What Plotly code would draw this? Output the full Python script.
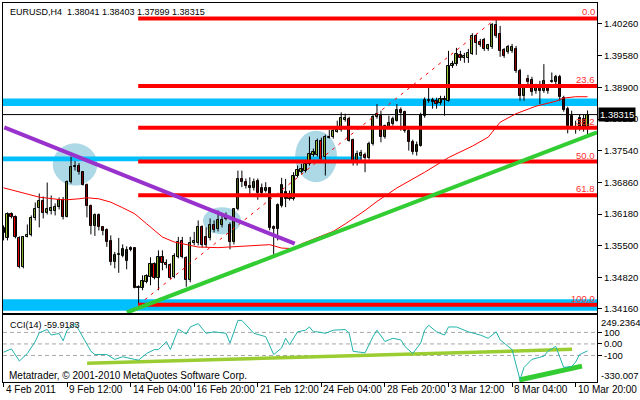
import plotly.graph_objects as go

# ---------------- data ----------------
symbol_header = "EURUSD,H4  1.38041 1.38403 1.37899 1.38315"

opens = [
    1.35873, 1.35659, 1.36172, 1.36108, 1.35669, 1.35038, 1.35691, 1.35723, 1.36087, 1.36301,
    1.36451, 1.36204, 1.36247, 1.36247, 1.36322, 1.36472, 1.36119, 1.36879, 1.37189, 1.37221,
    1.37093, 1.36804, 1.36354, 1.35926, 1.36162, 1.35894, 1.35830, 1.35595, 1.35145, 1.35295,
    1.35284, 1.35177, 1.35445, 1.35445, 1.34589, 1.34600, 1.34728, 1.34835, 1.35102, 1.34803,
    1.35263, 1.35124, 1.35092, 1.34835, 1.35263, 1.35595, 1.35231, 1.34760, 1.35552, 1.35552,
    1.35894, 1.35691, 1.35659, 1.35937, 1.35852, 1.35937, 1.36130, 1.35937, 1.35573, 1.36279,
    1.36936, 1.36879, 1.36793, 1.36735, 1.36885, 1.36735, 1.36686, 1.36735, 1.35900, 1.35866,
    1.36350, 1.36508, 1.36615, 1.36508, 1.37007, 1.37093, 1.37114, 1.37257, 1.37456, 1.37456,
    1.37756, 1.37399, 1.37814, 1.37827, 1.37949, 1.37985, 1.38199, 1.38221, 1.37771, 1.37343,
    1.37435, 1.37450, 1.37386, 1.37685, 1.38255, 1.38291, 1.37842, 1.38056, 1.38114, 1.38184,
    1.38413, 1.38362, 1.37970, 1.37735, 1.37506, 1.37649, 1.38291, 1.38597, 1.38627, 1.38612,
    1.38554, 1.38648, 1.38612, 1.39361, 1.39397, 1.39596, 1.39526, 1.39539, 1.39624, 1.40003,
    1.39875, 1.39911, 1.39718, 1.39768, 1.40238, 1.40039, 1.39697, 1.39667, 1.39682, 1.39718,
    1.39254, 1.38719, 1.39083, 1.39055, 1.38826, 1.38884, 1.38811, 1.38884, 1.39040, 1.39004,
    1.39126, 1.38670, 1.38434, 1.38291, 1.38041, 1.38248, 1.38227, 1.38041,
]
highs = [
    1.35937, 1.36215, 1.36215, 1.36151, 1.35702, 1.35702, 1.35958, 1.36151, 1.36429, 1.36622,
    1.36558, 1.36857, 1.36579, 1.36408, 1.36536, 1.36547, 1.36900, 1.37414, 1.37317, 1.37275,
    1.37103, 1.36836, 1.36386, 1.36194, 1.36194, 1.35916, 1.35873, 1.35723, 1.35370, 1.35669,
    1.35530, 1.35488, 1.35488, 1.35466, 1.34653, 1.34867, 1.34888, 1.35252, 1.35145, 1.35402,
    1.35402, 1.35209, 1.35124, 1.35338, 1.35691, 1.35691, 1.35274, 1.35691, 1.35798, 1.36044,
    1.35937, 1.35894, 1.36087, 1.36044, 1.36258, 1.36172, 1.36215, 1.36001, 1.36301, 1.37114,
    1.37114, 1.36943, 1.36971, 1.36943, 1.36943, 1.36836, 1.36864, 1.36757, 1.35937, 1.36408,
    1.36958, 1.36936, 1.36686, 1.37078, 1.37221, 1.37257, 1.37328, 1.37842, 1.37585, 1.37799,
    1.37820, 1.37884, 1.37985, 1.38013, 1.38184, 1.38362, 1.38334, 1.38270, 1.37799, 1.37542,
    1.37557, 1.37499, 1.37735, 1.38312, 1.38541, 1.38398, 1.38099, 1.38291, 1.38270, 1.38541,
    1.38469, 1.38398, 1.38013, 1.37777, 1.37735, 1.38355, 1.38683, 1.38884, 1.38676, 1.38676,
    1.38719, 1.38719, 1.39682, 1.39468, 1.39746, 1.39682, 1.39639, 1.39725, 1.40061, 1.40046,
    1.39939, 1.39960, 1.39832, 1.40281, 1.40377, 1.40217, 1.39746, 1.39810, 1.39832, 1.39789,
    1.39297, 1.38954, 1.39168, 1.39126, 1.38976, 1.39040, 1.39397, 1.38954, 1.39218, 1.39168,
    1.39168, 1.38719, 1.38484, 1.38398, 1.38184, 1.38312, 1.38312, 1.38403,
]
lows = [
    1.35616, 1.35616, 1.36087, 1.35659, 1.35017, 1.35017, 1.35680, 1.35702, 1.36044, 1.35894,
    1.36087, 1.36172, 1.36172, 1.36151, 1.36279, 1.36065, 1.36108, 1.36836, 1.37114, 1.37028,
    1.36793, 1.36108, 1.35744, 1.35712, 1.35830, 1.35723, 1.35477, 1.35081, 1.35017, 1.34920,
    1.35252, 1.34995, 1.35381, 1.34589, 1.34236, 1.34546, 1.34696, 1.34653, 1.34781, 1.34546,
    1.34974, 1.35017, 1.34781, 1.34803, 1.35231, 1.35231, 1.34621, 1.34717, 1.35509, 1.35509,
    1.35466, 1.35466, 1.35616, 1.35787, 1.35809, 1.35894, 1.36044, 1.35423, 1.35530, 1.36258,
    1.36757, 1.36729, 1.36615, 1.36686, 1.36487, 1.36601, 1.36643, 1.35830, 1.35274, 1.35616,
    1.36322, 1.36329, 1.36472, 1.36472, 1.36964, 1.37050, 1.37071, 1.37221, 1.37414, 1.37414,
    1.37328, 1.37007, 1.37799, 1.37799, 1.37927, 1.37949, 1.38163, 1.37735, 1.37221, 1.37221,
    1.37328, 1.37078, 1.37349, 1.37649, 1.38227, 1.37720, 1.37799, 1.38013, 1.38077, 1.38163,
    1.37970, 1.37927, 1.37542, 1.37456, 1.37435, 1.37628, 1.38248, 1.38569, 1.38441, 1.38441,
    1.38526, 1.38291, 1.38591, 1.39318, 1.39361, 1.39468, 1.39425, 1.39425, 1.39596, 1.39596,
    1.39768, 1.39682, 1.39682, 1.39725, 1.39960, 1.39554, 1.39532, 1.39618, 1.39639, 1.39211,
    1.38612, 1.38612, 1.38954, 1.38719, 1.38762, 1.38541, 1.38783, 1.38762, 1.38997, 1.38954,
    1.38612, 1.38377, 1.37912, 1.38013, 1.37906, 1.37970, 1.37949, 1.37899,
]
closes = [
    1.35766, 1.36172, 1.36119, 1.35691, 1.35038, 1.35680, 1.35734, 1.36087, 1.36290, 1.36451,
    1.36204, 1.36290, 1.36312, 1.36322, 1.36472, 1.36119, 1.36879, 1.37200, 1.37221, 1.37082,
    1.36814, 1.36354, 1.35926, 1.36162, 1.35894, 1.35819, 1.35584, 1.35145, 1.35306, 1.35327,
    1.35434, 1.35413, 1.35402, 1.34600, 1.34610, 1.34739, 1.34846, 1.35102, 1.34814, 1.35263,
    1.35124, 1.35081, 1.34814, 1.35274, 1.35584, 1.35263, 1.34760, 1.35563, 1.35595, 1.35905,
    1.35509, 1.35509, 1.35937, 1.35830, 1.36044, 1.36055, 1.36076, 1.35584, 1.36279, 1.36936,
    1.36879, 1.36793, 1.36750, 1.36879, 1.36628, 1.36628, 1.36735, 1.35879, 1.35852, 1.36365,
    1.36814, 1.36650, 1.36508, 1.37007, 1.37135, 1.37150, 1.37257, 1.37471, 1.37506, 1.37756,
    1.37364, 1.37842, 1.37842, 1.37970, 1.37985, 1.38242, 1.38242, 1.37756, 1.37328, 1.37471,
    1.37484, 1.37377, 1.37685, 1.38255, 1.38334, 1.37842, 1.38077, 1.38126, 1.38221, 1.38413,
    1.38340, 1.37970, 1.37720, 1.37506, 1.37664, 1.38312, 1.38627, 1.38627, 1.38576, 1.38541,
    1.38648, 1.38627, 1.39361, 1.39410, 1.39611, 1.39526, 1.39575, 1.39646, 1.40003, 1.39860,
    1.39811, 1.39718, 1.39804, 1.40238, 1.40003, 1.39682, 1.39575, 1.39768, 1.39768, 1.39254,
    1.38719, 1.38897, 1.39004, 1.38805, 1.38897, 1.38811, 1.39040, 1.38826, 1.39004, 1.39126,
    1.38683, 1.38419, 1.38077, 1.38041, 1.37998, 1.38006, 1.38013, 1.38315,
]
bid_price = 1.38315

# moving average (red thin line), read at sample bars
ma_bars = [0, 4, 9, 14, 16, 19, 21, 24, 27, 30, 33, 36, 37, 40, 43, 46, 49, 54, 57, 60, 63,
           67, 70, 73, 75, 78, 83, 86, 91, 94, 99, 106, 112, 118, 122, 125, 129, 134, 139,
           141, 144, 147]
ma_vals = [1.36744, 1.36650, 1.36543, 1.36493, 1.36487, 1.36508, 1.36530, 1.36508, 1.36436,
           1.36316, 1.36188, 1.35974, 1.35901, 1.35687, 1.35580, 1.35530, 1.35473, 1.35460,
           1.35473, 1.35488, 1.35509, 1.35524, 1.35451, 1.35438, 1.35541, 1.35638, 1.35809,
           1.35969, 1.36258, 1.36451, 1.36740, 1.37078, 1.37392, 1.37638, 1.37831, 1.38152,
           1.38334, 1.38495, 1.38601, 1.38670, 1.38698, 1.38698]

# CCI(14), read at sample bars
cci_bars = [0, 2, 4, 6, 8, 9, 11, 12, 14, 15, 16, 18, 19, 22, 23, 26, 28, 30, 33, 34, 36, 38,
            39, 41, 42, 44, 46, 47, 49, 51, 53, 56, 57, 59, 60, 63, 66, 68, 70, 71, 72, 74,
            76, 77, 78, 79, 81, 83, 86, 87, 88, 91, 93, 94, 96, 98, 100, 101, 103, 105, 106,
            107, 109, 111, 112, 114, 117, 120, 122, 124, 125, 128, 130, 131, 133, 136, 137,
            139, 141, 143, 144, 145, 147]
cci_vals = [-72, -43, -148, -83, 21, 97, 125, 77, 91, 27, 119, 176, 119, -64, -92, -92, -134,
            -111, -134, -140, -83, -49, -49, 21, -49, 128, 86, 147, 176, 92, 105, 92, 7, 204,
            204, 92, 63, -92, -35, 49, -7, 105, 119, 147, 105, 105, 92, 119, 125, 92, -64, -77,
            63, 119, 21, 49, 35, -21, -83, 7, 119, 162, 105, 77, 147, 147, 105, 77, 49, 105, 35,
            -49, -310, -204, -134, -106, -64, -21, -204, -196, -157, -92, -59.9183]
cci_max, cci_min = 249.2364, -330.007
cci_levels = [100, 0, -100]
cci_level_text = ["100", "0.00", "-100"]

# price axis ticks
price_ticks = [1.40260, 1.39580, 1.38900, 1.38220, 1.37540, 1.36860, 1.36180, 1.35500,
               1.34820, 1.34160]
price_tick_text = ["1.40260", "1.39580", "1.38900", "1.38220", "1.37540", "1.36860",
                   "1.36180", "1.35500", "1.34820", "1.34160"]

# time axis (bar index of each label)
time_tick_bars = [0, 16, 32, 48, 64, 80, 96, 112, 128, 144]
time_tick_text = ["4 Feb 2011", "9 Feb 12:00", "14 Feb 04:00", "16 Feb 20:00",
                  "21 Feb 12:00", "24 Feb 04:00", "28 Feb 20:00", "3 Mar 12:00",
                  "8 Mar 04:00", "10 Mar 20:00"]

# Fibonacci retracement (low bar -> high bar)
fib_low_bar, fib_low = 34, 1.34236
fib_high_bar, fib_high = 124, 1.40377
fib_pcts = [0.0, 23.6, 38.2, 50.0, 61.8, 100.0]

# trend lines (bar, price) end points
purple_bars, purple_prices = [0.2, 73.3], [1.38041, 1.35545]
green_bars, green_prices = [31.05, 149.375], [1.34069, 1.37934]
cci_trend1_bars, cci_trend1_vals = [21.05, 143.1], [-168, -47]
cci_trend2_bars, cci_trend2_vals = [129.8, 145.6], [-313, -192]

# horizontal blue zones (centre price, half height, last bar)
zone_centers = [1.38580, 1.37364, 1.34229]
zone_half = [0.00081, 0.00050, 0.00125]
zone_end_bar = [149.375, 90.1, 149.375]

# highlight ellipses (bar0, bar1, price0, price1)
ell_x0 = [12.4, 50.2, 73.4]
ell_x1 = [23.6, 59.8, 83.95]
ell_y0 = [1.36793, 1.35744, 1.36864]
ell_y1 = [1.37698, 1.36329, 1.37970]

# ---------------- figure ----------------
BULL = "#9ACD32"
BEAR = "#FF0000"
FONT = "Liberation Sans, Arial, sans-serif"
X0, X1 = -0.125, 149.375
bars = list(range(len(closes)))

fig = go.Figure()

# bid line (behind candles)
fig.add_trace(go.Scatter(x=[X0, X1], y=[bid_price, bid_price], mode="lines",
                         line=dict(color="black", width=1), hoverinfo="skip",
                         xaxis="x", yaxis="y"))

# wicks
wx, wy = [], []
for i in bars:
    wx += [i, i, None]
    wy += [lows[i], highs[i], None]
fig.add_trace(go.Scatter(x=wx, y=wy, mode="lines", line=dict(color="black", width=1),
                         hoverinfo="skip", xaxis="x", yaxis="y"))
# bodies
fig.add_trace(go.Bar(x=bars, y=[c - o for o, c in zip(opens, closes)], base=opens,
                     width=0.55,
                     marker=dict(color=[BULL if c >= o else BEAR for o, c in zip(opens, closes)],
                                 line=dict(color="black", width=1)),
                     hoverinfo="skip", xaxis="x", yaxis="y"))

# moving average
fig.add_trace(go.Scatter(x=ma_bars, y=ma_vals, mode="lines", line=dict(color="#FF0000", width=1),
                         hoverinfo="skip", xaxis="x", yaxis="y"))

# fib base line (dotted)
fig.add_trace(go.Scatter(x=[fib_low_bar, fib_high_bar], y=[fib_low, fib_high], mode="lines",
                         line=dict(color="#FF0000", width=1, dash="3px,5px"),
                         hoverinfo="skip", xaxis="x", yaxis="y"))
# fib levels
fib_prices = [fib_high - (fib_high - fib_low) * p / 100.0 for p in fib_pcts]
for lvl in fib_prices:
    fig.add_trace(go.Scatter(x=[fib_low_bar - 0.1, X1], y=[lvl, lvl], mode="lines",
                             line=dict(color="#FF0000", width=4), hoverinfo="skip",
                             xaxis="x", yaxis="y"))

# trend lines
fig.add_trace(go.Scatter(x=purple_bars, y=purple_prices, mode="lines",
                         line=dict(color="#9932CC", width=4), hoverinfo="skip",
                         xaxis="x", yaxis="y"))
fig.add_trace(go.Scatter(x=green_bars, y=green_prices, mode="lines",
                         line=dict(color="#32CD32", width=4), hoverinfo="skip",
                         xaxis="x", yaxis="y"))

# CCI panel
fig.add_trace(go.Scatter(x=cci_trend1_bars, y=cci_trend1_vals, mode="lines",
                         line=dict(color="#9ACD32", width=3.5), hoverinfo="skip",
                         xaxis="x2", yaxis="y2"))
fig.add_trace(go.Scatter(x=cci_trend2_bars, y=cci_trend2_vals, mode="lines",
                         line=dict(color="#32CD32", width=5), hoverinfo="skip",
                         xaxis="x2", yaxis="y2"))
fig.add_trace(go.Scatter(x=cci_bars, y=cci_vals, mode="lines",
                         line=dict(color="#20B2AA", width=1), hoverinfo="skip",
                         xaxis="x2", yaxis="y2"))

shapes = []
for x0, x1, y0, y1 in zip(ell_x0, ell_x1, ell_y0, ell_y1):
    shapes.append(dict(type="circle", xref="x", yref="y", x0=x0, x1=x1, y0=y0, y1=y1,
                       fillcolor="#ADD8E6", line=dict(width=0), layer="below"))
for c, h, e in zip(zone_centers, zone_half, zone_end_bar):
    shapes.append(dict(type="rect", xref="x", yref="y", x0=X0, x1=e, y0=c - h, y1=c + h,
                       fillcolor="#00BFFF", line=dict(width=0), layer="below"))
for lv in cci_levels:
    shapes.append(dict(type="line", xref="x2", yref="y2", x0=X0, x1=X1, y0=lv, y1=lv,
                       line=dict(color="#A8A8A8", width=1, dash="4px,3px"), layer="below"))

annotations = [
    dict(text=symbol_header, xref="paper", yref="paper", x=0.0084, y=0.976,
         xanchor="left", yanchor="middle", showarrow=False,
         font=dict(family=FONT, size=9, color="black")),
    dict(text="CCI(14) %.4f" % cci_vals[-1], xref="paper", yref="paper", x=0.0084, y=0.150,
         xanchor="left", yanchor="middle", showarrow=False,
         font=dict(family=FONT, size=9, color="black")),
    dict(text="Metatrader, © 2001-2010 MetaQuotes Software Corp.", xref="paper",
         yref="paper", x=0.0067, y=0.0184, xanchor="left", yanchor="middle",
         showarrow=False, font=dict(family=FONT, size=10, color="black")),
    dict(text="%.5f" % bid_price, xref="paper", yref="y", x=1.0, y=bid_price,
         xanchor="left", yanchor="middle", showarrow=False, bgcolor="black", borderpad=1,
         xshift=1, font=dict(family=FONT, size=9.5, color="white")),
    dict(text=("%.4f" % cci_max), xref="paper", yref="paper", x=1.0, y=0.158,
         xanchor="left", yanchor="middle", showarrow=False, xshift=2,
         font=dict(family=FONT, size=9.5, color="black")),
    dict(text=("%.3f" % cci_min), xref="paper", yref="paper", x=1.0, y=0.016,
         xanchor="left", yanchor="middle", showarrow=False, xshift=2,
         font=dict(family=FONT, size=9.5, color="black")),
]
for p, lvl in zip(fib_pcts, fib_prices):
    annotations.append(dict(text="%.1f" % p, xref="paper", yref="y", x=0.9983, y=lvl,
                            xanchor="right", yanchor="bottom", showarrow=False, yshift=0,
                            borderpad=0, font=dict(family=FONT, size=9.5, color="#FF3030")))
for b, t in zip(time_tick_bars, time_tick_text):
    annotations.append(dict(text=t, xref="x2", yref="paper", x=b, y=-0.021,
                            xanchor="left", yanchor="middle", showarrow=False, xshift=0,
                            font=dict(family=FONT, size=10, color="black")))

axis_common = dict(showline=True, mirror=True, linecolor="black", linewidth=1,
                   showgrid=False, zeroline=False)
fig.update_layout(
    width=640, height=400, autosize=False,
    margin=dict(l=2, r=40, t=2, b=18, pad=0),
    paper_bgcolor="white", plot_bgcolor="white",
    showlegend=False, hovermode=False, bargap=0,
    font=dict(family=FONT, size=10, color="black"),
    xaxis=dict(domain=[0, 1], range=[X0, X1], anchor="y", showticklabels=False, ticks="",
               **axis_common),
    yaxis=dict(domain=[0.18158, 1], range=[1.34054, 1.40709], anchor="x", side="right",
               tickvals=price_ticks, ticktext=price_tick_text, ticks="outside", ticklen=4,
               tickcolor="black", tickfont=dict(family=FONT, size=9.5), **axis_common),
    xaxis2=dict(domain=[0, 1], matches="x", anchor="y2", tickvals=time_tick_bars,
                ticks="outside", ticklen=4, tickcolor="black", showticklabels=False,
                **axis_common),
    yaxis2=dict(domain=[0, 0.17632], range=[cci_min, cci_max], anchor="x2", side="right",
                tickvals=cci_levels, ticktext=cci_level_text, ticks="outside", ticklen=4,
                tickcolor="black", tickfont=dict(family=FONT, size=9.5), **axis_common),
    shapes=shapes,
    annotations=annotations,
)

fig.write_html("out.html", config={"displayModeBar": False},
               post_script="document.body.style.margin='0px';document.body.style.overflow='hidden';")
